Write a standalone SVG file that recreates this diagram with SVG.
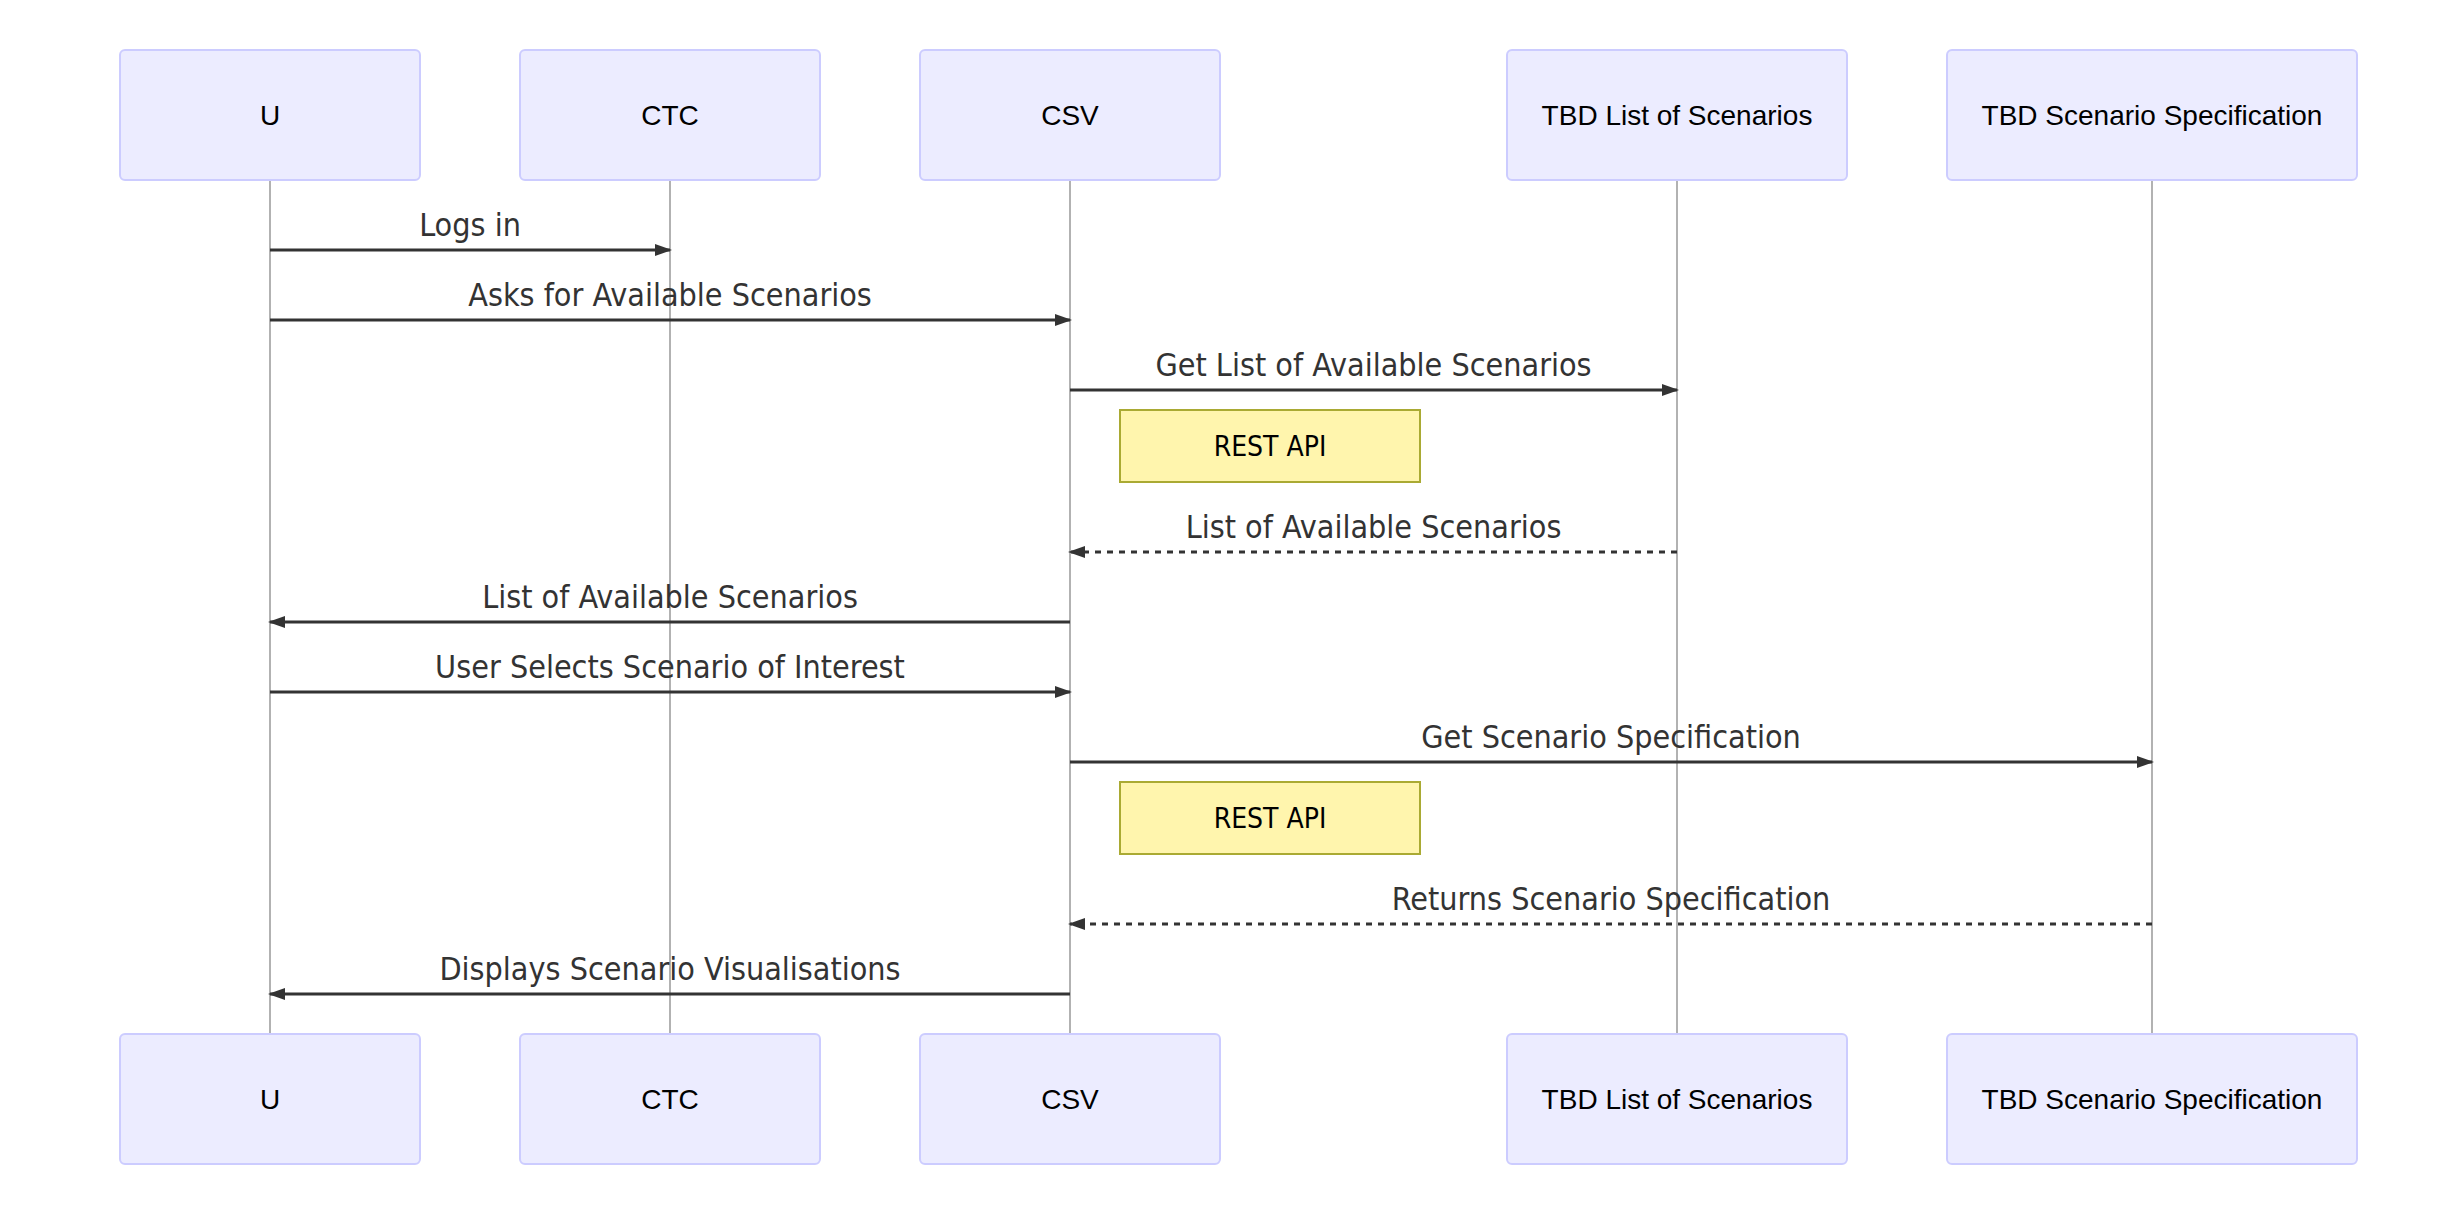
<svg xmlns="http://www.w3.org/2000/svg" width="2448" height="1206" viewBox="0 0 2448 1206">
<defs>
<style>
.actor{fill:#ECECFF;stroke:#CCCCFF;stroke-width:2}
.atext{font-family:"Liberation Sans",Arial,sans-serif;font-size:28px;fill:#000;text-anchor:middle;dominant-baseline:central}
.life{stroke:#999;stroke-width:1.5;fill:none}
.msg{stroke:#333;stroke-width:3;fill:none}
.dash{stroke-dasharray:6,6}
.mtext{font-family:"DejaVu Sans Condensed","DejaVu Sans",sans-serif;font-stretch:condensed;font-size:32px;fill:#333;text-anchor:middle}
.note{fill:#FFF5AD;stroke:#AAAA33;stroke-width:2}
.ntext{font-family:"DejaVu Sans Condensed","DejaVu Sans",sans-serif;font-stretch:condensed;font-size:28px;fill:#000;text-anchor:middle;dominant-baseline:central}
</style>
<marker id="arrow" markerUnits="userSpaceOnUse" markerWidth="18" markerHeight="12" refX="15" refY="6" orient="auto">
<path d="M0,0 L17,6 L0,12 z" fill="#333"/>
</marker>
</defs>
<rect width="2448" height="1206" fill="#fff"/>
<g id="lifelines">
<line class="life" x1="270" y1="180" x2="270" y2="1034"/>
<line class="life" x1="670" y1="180" x2="670" y2="1034"/>
<line class="life" x1="1070" y1="180" x2="1070" y2="1034"/>
<line class="life" x1="1677" y1="180" x2="1677" y2="1034"/>
<line class="life" x1="2152" y1="180" x2="2152" y2="1034"/>
</g>
<g id="actor-U-top"><rect class="actor" x="120" y="50" width="300" height="130" rx="5"/><text class="atext" x="270" y="115">U</text></g>
<g id="actor-CTC-top"><rect class="actor" x="520" y="50" width="300" height="130" rx="5"/><text class="atext" x="670" y="115">CTC</text></g>
<g id="actor-CSV-top"><rect class="actor" x="920" y="50" width="300" height="130" rx="5"/><text class="atext" x="1070" y="115">CSV</text></g>
<g id="actor-TBDList-top"><rect class="actor" x="1507" y="50" width="340" height="130" rx="5"/><text class="atext" x="1677" y="115">TBD List of Scenarios</text></g>
<g id="actor-TBDSpec-top"><rect class="actor" x="1947" y="50" width="410" height="130" rx="5"/><text class="atext" x="2152" y="115">TBD Scenario Specification</text></g>
<g id="actor-U-bottom"><rect class="actor" x="120" y="1034" width="300" height="130" rx="5"/><text class="atext" x="270" y="1099">U</text></g>
<g id="actor-CTC-bottom"><rect class="actor" x="520" y="1034" width="300" height="130" rx="5"/><text class="atext" x="670" y="1099">CTC</text></g>
<g id="actor-CSV-bottom"><rect class="actor" x="920" y="1034" width="300" height="130" rx="5"/><text class="atext" x="1070" y="1099">CSV</text></g>
<g id="actor-TBDList-bottom"><rect class="actor" x="1507" y="1034" width="340" height="130" rx="5"/><text class="atext" x="1677" y="1099">TBD List of Scenarios</text></g>
<g id="actor-TBDSpec-bottom"><rect class="actor" x="1947" y="1034" width="410" height="130" rx="5"/><text class="atext" x="2152" y="1099">TBD Scenario Specification</text></g>
<g id="note1"><rect class="note" x="1120" y="410" width="300" height="72"/><text class="ntext" x="1270" y="446">REST API</text></g>
<g id="note2"><rect class="note" x="1120" y="782" width="300" height="72"/><text class="ntext" x="1270" y="818">REST API</text></g>
<g id="connectors">
<line class="msg" x1="270" y1="250" x2="670" y2="250" marker-end="url(#arrow)"/>
<text class="mtext" x="470" y="236">Logs in</text>
<line class="msg" x1="270" y1="320" x2="1070" y2="320" marker-end="url(#arrow)"/>
<text class="mtext" x="670" y="306">Asks for Available Scenarios</text>
<line class="msg" x1="1070" y1="390" x2="1677" y2="390" marker-end="url(#arrow)"/>
<text class="mtext" x="1373.5" y="376">Get List of Available Scenarios</text>
<line class="msg dash" x1="1677" y1="552" x2="1070" y2="552" marker-end="url(#arrow)"/>
<text class="mtext" x="1373.5" y="538">List of Available Scenarios</text>
<line class="msg" x1="1070" y1="622" x2="270" y2="622" marker-end="url(#arrow)"/>
<text class="mtext" x="670" y="608">List of Available Scenarios</text>
<line class="msg" x1="270" y1="692" x2="1070" y2="692" marker-end="url(#arrow)"/>
<text class="mtext" x="670" y="678">User Selects Scenario of Interest</text>
<line class="msg" x1="1070" y1="762" x2="2152" y2="762" marker-end="url(#arrow)"/>
<text class="mtext" x="1611" y="748">Get Scenario Specification</text>
<line class="msg dash" x1="2152" y1="924" x2="1070" y2="924" marker-end="url(#arrow)"/>
<text class="mtext" x="1611" y="910">Returns Scenario Specification</text>
<line class="msg" x1="1070" y1="994" x2="270" y2="994" marker-end="url(#arrow)"/>
<text class="mtext" x="670" y="980">Displays Scenario Visualisations</text>
</g>
</svg>
